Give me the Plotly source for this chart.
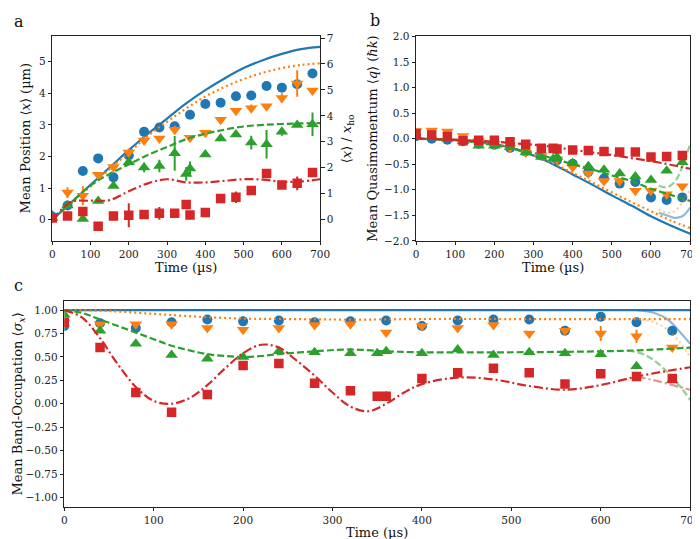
import plotly.graph_objects as go

# ---------------- data ----------------
t_main = [0, 40, 80, 120, 160, 200, 240, 280, 320, 360, 400, 440, 480, 520, 560, 600, 640, 680]
t_extra = [0, 40, 80, 120, 160, 200, 240, 280, 320, 350, 360, 400, 440, 480, 520, 560, 600, 640, 680]

# panel a: mean position (um)
blue_a = [0.10, 0.45, 1.54, 1.94, 1.34, 2.03, 2.78, 2.92, 2.96, 3.32, 3.66, 3.70, 3.91, 3.93, 4.23, 4.18, 4.29, 4.63]
blue_a_err = [0.2, 0, 0, 0, 0, 0, 0, 0, 0, 0, 0.12, 0.1, 0, 0, 0, 0, 0, 0]
orange_a = [0.12, 0.86, 0.76, 1.42, 1.67, 2.13, 2.51, 2.57, 2.85, 2.59, 2.75, 3.16, 3.45, 3.53, 3.59, 3.85, 4.31, 4.09]
orange_a_err = [0, 0.17, 0.3, 0, 0.12, 0.12, 0.12, 0, 0.12, 0, 0, 0, 0, 0.12, 0, 0.15, 0.42, 0]
green_a = [0.05, 0.45, 0.02, 0.59, 1.07, 1.82, 1.65, 1.70, 2.10, 1.45, 1.62, 2.06, 2.57, 2.70, 2.44, 2.39, 2.78, 3.00, 3.02]
green_a_err = [0, 0, 0, 0, 0, 0, 0.15, 0.2, 0.55, 0.22, 0.22, 0, 0, 0, 0.22, 0.45, 0.12, 0, 0.37]
red_a = [0.05, 0.12, 0.26, -0.21, 0.12, 0.14, 0.16, 0.20, 0.20, 0.48, 0.15, 0.23, 0.67, 0.71, 0.92, 1.46, 1.10, 1.15, 1.49]
red_a_err = [0, 0, 0.1, 0.12, 0, 0.38, 0, 0.2, 0, 0, 0, 0, 0.1, 0.18, 0, 0, 0, 0.22, 0]

line_t = [0, 50, 100, 150, 200, 250, 300, 350, 400, 450, 500, 550, 600, 650, 700]
blue_a_line = [0, 0.55, 1.10, 1.65, 2.20, 2.72, 3.20, 3.68, 4.10, 4.47, 4.80, 5.05, 5.25, 5.40, 5.47]
orange_a_line = [0, 0.52, 1.05, 1.60, 2.12, 2.65, 3.10, 3.52, 3.90, 4.20, 4.45, 4.65, 4.80, 4.90, 4.95]
green_a_line = [0, 0.55, 1.08, 1.45, 1.75, 2.05, 2.30, 2.55, 2.72, 2.85, 2.95, 3.00, 3.03, 3.05, 3.06]
red_a_line = [0, 0.56, 0.60, 0.62, 0.90, 1.15, 1.28, 1.18, 1.18, 1.23, 1.28, 1.27, 1.20, 1.21, 1.28]

# right-hand axis of panel a: <x>/x_ho tick values
xho_ticks = [0, 1, 2, 3, 4, 5, 6, 7]

# panel b: mean quasimomentum (hbar k)
blue_b = [0.05, 0.0, -0.02, -0.05, -0.10, -0.12, -0.18, -0.25, -0.33, -0.42, -0.49, -0.65, -0.78, -0.88, -0.85, -1.15, -1.20, -1.15]
orange_b = [0.15, 0.16, 0.14, 0.05, -0.05, -0.10, -0.18, -0.27, -0.33, -0.41, -0.56, -0.68, -0.83, -0.83, -1.02, -1.02, -1.09, -0.93]
green_b = [0.05, 0.03, 0.0, -0.05, -0.14, -0.14, -0.17, -0.27, -0.36, -0.40, -0.36, -0.48, -0.54, -0.61, -0.68, -0.74, -0.81, -0.63, -0.46]
red_b = [0.10, 0.07, 0.04, -0.04, -0.03, -0.03, -0.06, -0.11, -0.19, -0.19, -0.20, -0.22, -0.23, -0.25, -0.26, -0.26, -0.36, -0.35, -0.33]

blue_b_line = [0, -0.01, -0.03, -0.06, -0.10, -0.20, -0.33, -0.50, -0.70, -0.90, -1.11, -1.31, -1.52, -1.70, -1.86]
orange_b_line = [0, -0.01, -0.03, -0.06, -0.10, -0.19, -0.32, -0.48, -0.67, -0.86, -1.05, -1.24, -1.42, -1.60, -1.75]
green_b_line = [0, -0.01, -0.03, -0.07, -0.13, -0.20, -0.28, -0.39, -0.50, -0.60, -0.72, -0.83, -0.98, -1.10, -1.22]
red_b_line = [0, -0.01, -0.02, -0.04, -0.06, -0.09, -0.12, -0.16, -0.22, -0.27, -0.32, -0.38, -0.44, -0.51, -0.59]

fade_b_t = [620, 640, 660, 680, 700]
blue_b_fade = [-1.45, -1.50, -1.55, -1.52, -1.35]
orange_b_fade = [-1.38, -1.45, -1.42, -1.25, -1.0]
green_b_fade = [-0.92, -0.95, -0.85, -0.55, -0.10]

# panel c: mean band occupation
blue_c = [0.83, 0.86, 0.81, 0.87, 0.90, 0.88, 0.89, 0.87, 0.88, 0.89, 0.83, 0.89, 0.90, 0.90, 0.78, 0.93, 0.87, 0.78]
blue_c_err = [0, 0, 0, 0, 0, 0, 0, 0, 0, 0, 0.04, 0, 0, 0, 0, 0, 0, 0]
orange_c = [0.87, 0.85, 0.85, 0.85, 0.81, 0.79, 0.81, 0.84, 0.85, 0.76, 0.83, 0.81, 0.84, 0.75, 0.78, 0.75, 0.72, 0.60]
orange_c_err = [0, 0, 0, 0, 0, 0, 0, 0, 0, 0, 0.03, 0, 0, 0, 0, 0.08, 0.07, 0]
green_c = [0.95, 0.78, 0.64, 0.52, 0.48, 0.50, 0.56, 0.55, 0.54, 0.54, 0.56, 0.54, 0.58, 0.52, 0.55, 0.54, 0.53, 0.40, 0.25]
red_c = [0.87, 0.60, 0.12, -0.09, 0.10, 0.41, 0.43, 0.22, 0.14, 0.08, 0.08, 0.27, 0.33, 0.38, 0.33, 0.21, 0.32, 0.29, 0.27]
red_c_err = [0, 0, 0, 0, 0, 0, 0, 0, 0, 0, 0.05, 0, 0, 0, 0, 0, 0, 0, 0]

blue_c_t = [0, 700]
blue_c_line = [1.0, 1.0]
orange_c_t = [0, 50, 100, 150, 200, 250, 300, 350, 400, 500, 600, 700]
orange_c_line = [1.0, 0.99, 0.96, 0.93, 0.91, 0.905, 0.90, 0.90, 0.905, 0.905, 0.905, 0.905]
green_c_t = [0, 20, 40, 60, 80, 100, 120, 140, 160, 180, 200, 220, 240, 280, 320, 360, 400, 500, 600, 640, 700]
green_c_line = [1.0, 0.97, 0.90, 0.83, 0.76, 0.69, 0.62, 0.57, 0.53, 0.51, 0.50, 0.51, 0.53, 0.56, 0.58, 0.56, 0.55, 0.55, 0.56, 0.57, 0.60]
red_c_t = [0, 20, 40, 60, 80, 100, 120, 140, 160, 180, 200, 220, 240, 260, 280, 300, 320, 340, 360, 380, 400, 440, 480, 520, 560, 600, 640, 680, 700]
red_c_line = [1.0, 0.92, 0.70, 0.42, 0.18, 0.03, 0.0, 0.06, 0.20, 0.38, 0.54, 0.63, 0.60, 0.46, 0.30, 0.12, -0.03, -0.08, 0.0, 0.12,
              0.21, 0.28, 0.26, 0.19, 0.15, 0.20, 0.29, 0.36, 0.39]

blue_c_fade_t = [640, 660, 675, 690, 700]
blue_c_fade = [1.0, 0.97, 0.90, 0.75, 0.64]
orange_c_fade_t = [640, 660, 680, 700]
orange_c_fade = [0.905, 0.87, 0.75, 0.50]
green_c_fade_t = [630, 650, 670, 690, 700]
green_c_fade = [0.57, 0.52, 0.38, 0.17, 0.04]
red_c_fade_t = [640, 660, 680, 700]
red_c_fade = [0.29, 0.25, 0.20, 0.15]

# ---------------- style ----------------
BLUE, ORANGE, GREEN, RED = "#1f77b4", "#ff7f0e", "#2ca02c", "#d62728"
SERIF = "DejaVu Serif"
DASH = {"blue": "solid", "orange": "2px,3px", "green": "7px,3px", "red": "9px,3px,2px,3px"}
SYM = {"blue": ("circle", 10), "orange": ("triangle-down", 11), "green": ("triangle-up", 11), "red": ("square", 9.5)}
COL = {"blue": BLUE, "orange": ORANGE, "green": GREEN, "red": RED}

fig = go.Figure()


def add_line(name, t, y, xa, ya, opacity=1.0):
    fig.add_trace(go.Scatter(x=t, y=y, mode="lines", xaxis=xa, yaxis=ya, opacity=opacity,
                             line=dict(color=COL[name], width=2.2, dash=DASH[name], shape="spline"),
                             showlegend=False, hoverinfo="skip"))


def add_pts(name, t, y, xa, ya, err=None):
    sym, size = SYM[name]
    kw = {}
    if err is not None:
        kw["error_y"] = dict(type="data", array=err, width=0, thickness=2, color=COL[name])
    fig.add_trace(go.Scatter(x=t, y=y, mode="markers", xaxis=xa, yaxis=ya,
                             marker=dict(symbol=sym, size=size, color=COL[name], line=dict(width=0)),
                             showlegend=False, **kw))


# panel a
add_line("blue", line_t, blue_a_line, "x", "y")
add_pts("blue", t_main, blue_a, "x", "y", blue_a_err)
add_line("orange", line_t, orange_a_line, "x", "y")
add_pts("orange", t_main, orange_a, "x", "y", orange_a_err)
add_line("green", line_t, green_a_line, "x", "y")
add_pts("green", t_extra, green_a, "x", "y", green_a_err)
add_line("red", line_t, red_a_line, "x", "y")
add_pts("red", t_extra, red_a, "x", "y", red_a_err)
# invisible trace so that the secondary (right) axis is drawn
fig.add_trace(go.Scatter(x=[0] * len(xho_ticks), y=xho_ticks, mode="markers", xaxis="x", yaxis="y4",
                         marker=dict(opacity=0), showlegend=False, hoverinfo="skip"))

# panel b
add_line("blue", line_t, blue_b_line, "x2", "y2")
add_line("blue", fade_b_t, blue_b_fade, "x2", "y2", 0.5)
add_pts("blue", t_main, blue_b, "x2", "y2")
add_line("orange", line_t, orange_b_line, "x2", "y2")
add_line("orange", fade_b_t, orange_b_fade, "x2", "y2", 0.4)
add_pts("orange", t_main, orange_b, "x2", "y2")
add_line("green", line_t, green_b_line, "x2", "y2")
add_line("green", fade_b_t, green_b_fade, "x2", "y2", 0.5)
add_pts("green", t_extra, green_b, "x2", "y2")
add_line("red", line_t, red_b_line, "x2", "y2")
add_pts("red", t_extra, red_b, "x2", "y2")

# panel c
add_line("blue", blue_c_t, blue_c_line, "x3", "y3")
add_line("blue", blue_c_fade_t, blue_c_fade, "x3", "y3", 0.5)
add_pts("blue", t_main, blue_c, "x3", "y3", blue_c_err)
add_line("orange", orange_c_t, orange_c_line, "x3", "y3")
add_line("orange", orange_c_fade_t, orange_c_fade, "x3", "y3", 0.4)
add_pts("orange", t_main, orange_c, "x3", "y3", orange_c_err)
add_line("green", green_c_t, green_c_line, "x3", "y3")
add_line("green", green_c_fade_t, green_c_fade, "x3", "y3", 0.5)
add_pts("green", t_extra, green_c, "x3", "y3")
add_line("red", red_c_t, red_c_line, "x3", "y3")
add_line("red", red_c_fade_t, red_c_fade, "x3", "y3", 0.5)
add_pts("red", t_extra, red_c, "x3", "y3", red_c_err)

W, H = 700, 539
TICKFONT = dict(family=SERIF, size=10.5, color="#222")
base = dict(showline=True, linecolor="#222", linewidth=1, ticks="outside", ticklen=3.5, tickwidth=1,
            tickcolor="#222", showgrid=False, zeroline=False, tickfont=TICKFONT)

ya_dom = [1 - 232 / H, 1 - 23 / H]
yc_dom = [1 - 504 / H, 1 - 293.3 / H]

fig.update_layout(
    width=W, height=H, margin=dict(l=0, r=0, t=0, b=0),
    paper_bgcolor="white", plot_bgcolor="white", showlegend=False,
    xaxis=dict(domain=[42 / W, 315 / W], anchor="y", range=[0, 700], dtick=100, mirror=True, **base),
    yaxis=dict(domain=ya_dom, anchor="x", range=[-0.67, 5.8], dtick=1, tick0=0, mirror=False, **base),
    yaxis4=dict(overlaying="y", side="right", anchor="x", range=[-0.82, 7.06], dtick=1, tick0=0, **base),
    xaxis2=dict(domain=[412.7 / W, 692 / W], anchor="y2", range=[0, 700], dtick=100, mirror=True, **base),
    yaxis2=dict(domain=ya_dom, anchor="x2", range=[-2, 2], dtick=0.5, tickformat=".1f", mirror=True, **base),
    xaxis3=dict(domain=[54.3 / W, 692 / W], anchor="y3", range=[0, 700], dtick=100, mirror=True, **base),
    yaxis3=dict(domain=yc_dom, anchor="x3", range=[-1.1, 1.1], dtick=0.25, tickformat=".2f", mirror=True, **base),
)

TF = dict(family=SERIF, size=13, color="#111")


def ann(text, x, y, angle=0, font=TF):
    fig.add_annotation(text=text, x=x / W, y=1 - y / H, xref="paper", yref="paper", showarrow=False,
                       textangle=angle, font=font, xanchor="center", yanchor="middle")


ann("Mean Position ⟨<i>x</i>⟩ (µm)", 15, 127.5, -90)
ann("⟨<i>x</i>⟩ / <i>x</i><sub>ho</sub>", 343, 127.5, -90)
ann("Time (µs)", 178.5, 259)
ann("Mean Quasimomentum ⟨<i>q</i>⟩ (ℏ<i>k</i>)", 369, 127.5, -90)
ann("Time (µs)", 552, 259)
ann("Mean Band-Occupation ⟨<i>σ<sub>x</sub></i>⟩", 8, 398.5, -90)
ann("Time (µs)", 373, 530)

LF = dict(family=SERIF, size=16, color="#111")
ann("a", 8, 8, 0, LF)
ann("b", 371, 7, 0, LF)
ann("c", 8, 278, 0, LF)

fig.write_html("out.html")
